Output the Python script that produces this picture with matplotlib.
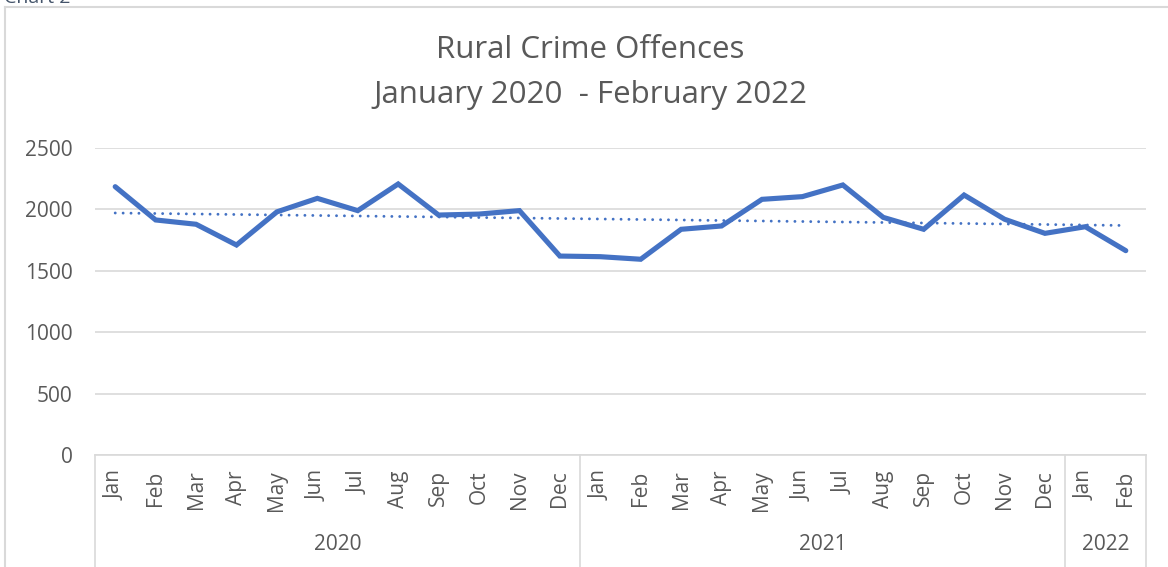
import numpy as np
import matplotlib
matplotlib.use("Agg")
import matplotlib.pyplot as plt
from matplotlib.lines import Line2D

months = ["Jan", "Feb", "Mar", "Apr", "May", "Jun", "Jul", "Aug", "Sep", "Oct", "Nov", "Dec"]
years = ["2020", "2021", "2022"]
months_per_year = [12, 12, 2]
values_2020 = [2185, 1914, 1879, 1710, 1980, 2090, 1990, 2207, 1954, 1962, 1990, 1620]
values_2021 = [1615, 1594, 1838, 1865, 2082, 2104, 2199, 1935, 1838, 2117, 1920, 1805]
values_2022 = [1859, 1664]
title_lines = ["Rural Crime Offences", "January 2020  - February 2022"]
yticks = [0, 500, 1000, 1500, 2000, 2500]

values = values_2020 + values_2021 + values_2022
labels = months * 2 + months[:2]
x = np.arange(len(values))

plt.rcParams['font.family'] = ['Open Sans', 'DejaVu Sans']
TXT = '#595959'
GRID = '#D9D9D9'
BLUE = '#4472C4'

W, H = 1168, 567
fig = plt.figure(figsize=(W / 100, H / 100), dpi=100)
ax = fig.add_axes([95 / W, (H - 455) / H, (1146 - 95) / W, (455 - 148) / H])

ax.plot(x, values, color=BLUE, lw=3.7, solid_joinstyle='miter', solid_capstyle='round', zorder=3)
coef = np.polyfit(x, values, 1)
ax.plot(x, np.polyval(coef, x), color=BLUE, lw=2.1, linestyle=(0, (0.01, 2.7)),
        dash_capstyle='round', zorder=4)

ax.set_xlim(-0.5, len(values) - 0.5)
ax.set_ylim(0, 2500)
ax.set_yticks(yticks)
ax.set_yticklabels([str(v) for v in yticks])
ax.yaxis.grid(True, color=GRID, lw=1.2)
ax.set_axisbelow(True)
for s in ['top', 'right', 'left']:
    ax.spines[s].set_visible(False)
ax.spines['bottom'].set_color(GRID)
ax.spines['bottom'].set_linewidth(1.2)
ax.tick_params(axis='y', length=0, pad=16, labelsize=15, labelcolor=TXT)
ax.set_xticks(x)
ax.set_xticklabels(labels, rotation=90, va='top', ha='center')
ax.tick_params(axis='x', length=0, pad=11, labelsize=15, labelcolor=TXT)

# year group labels and separators
tr = ax.get_xaxis_transform()
start = 0
bounds = [-0.5]
for yr, n in zip(years, months_per_year):
    center = start + (n - 1) / 2
    ax.text(center, -0.293, yr, transform=tr, ha='center', va='center', fontsize=15, color=TXT)
    start += n
    bounds.append(start - 0.5)
for b in bounds:
    ax.add_line(Line2D([b, b], [0, -0.42], transform=tr, color=GRID, lw=1.2, clip_on=False))

# titles
fig.text(590 / W, 1 - 50 / H, title_lines[0], ha='center', va='center', fontsize=22.5, color=TXT)
fig.text(590 / W, 1 - 95 / H, title_lines[1], ha='center', va='center', fontsize=22.5, color=TXT)

# chart border (left and top) and cut-off caption
fig.add_artist(Line2D([5 / W, 5 / W], [0, 1 - 7 / H], transform=fig.transFigure, color=GRID, lw=1.5))
fig.add_artist(Line2D([5 / W, 1], [1 - 7 / H, 1 - 7 / H], transform=fig.transFigure, color=GRID, lw=1.5))
fig.text(4 / W, 1 - 3 / H, "Chart 2", ha='left', va='baseline', fontsize=14, color='#44546A')

fig.savefig('out.png', dpi=100)
